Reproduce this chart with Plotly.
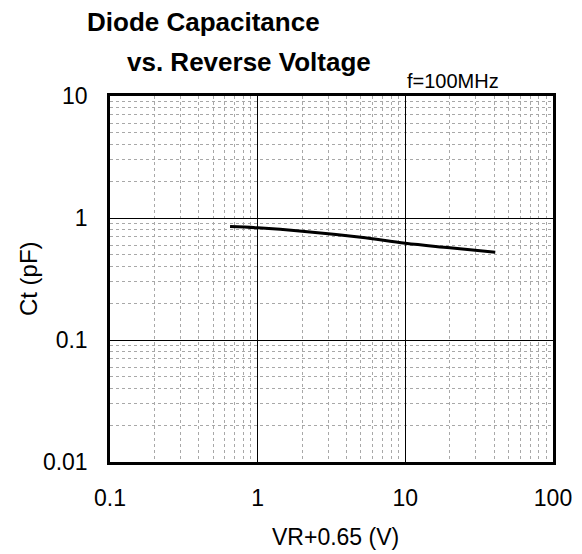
import plotly.graph_objects as go

vr_plus = [0.65, 1.0, 2.0, 5.0, 10.0, 20.0, 40.65]
ct_pf = [0.85, 0.83, 0.78, 0.695, 0.62, 0.57, 0.524]

x_ticks = [0.1, 1, 10, 100]
x_tick_labels = ["0.1", "1", "10", "100"]
y_ticks = [0.01, 0.1, 1, 10]
y_tick_labels = ["0.01", "0.1", "1", "10"]

FONT = "Liberation Sans, Arial, sans-serif"

fig = go.Figure()
fig.add_trace(go.Scatter(x=vr_plus, y=ct_pf, mode="lines",
                         line=dict(color="black", width=3, shape="spline"),
                         showlegend=False, hoverinfo="skip"))

axis_common = dict(
    type="log", showgrid=True, gridcolor="black", gridwidth=1,
    showline=True, linecolor="black", linewidth=2.5, mirror=True,
    ticks="", zeroline=False, automargin=False,
    tickfont=dict(family=FONT, size=23, color="black"),
    minor=dict(dtick="D1", showgrid=True, gridcolor="#a8a8a8", gridwidth=1, griddash="dot", ticks=""),
)

fig.update_xaxes(range=[-1, 2], tickvals=x_ticks, ticktext=x_tick_labels,
                 ticklabelstandoff=14, **axis_common)
fig.update_yaxes(range=[-2, 1], tickvals=y_ticks, ticktext=y_tick_labels,
                 ticklabelstandoff=15, **axis_common)

# axis titles
fig.add_annotation(text="VR+0.65 (V)", xref="paper", yref="paper",
                   x=0.51, y=-0.205, xanchor="center", yanchor="middle", showarrow=False,
                   font=dict(family=FONT, size=23, color="black"))
fig.add_annotation(text="Ct (pF)", xref="paper", yref="paper", textangle=-90,
                   x=-0.185, y=0.5, xanchor="center", yanchor="middle", showarrow=False,
                   font=dict(family=FONT, size=24, color="black"))

# chart title and condition
fig.add_annotation(text="<b>Diode Capacitance</b>", xref="paper", yref="paper",
                   x=-0.056, y=1.202, xanchor="left", yanchor="middle", showarrow=False,
                   font=dict(family=FONT, size=26, color="black"))
fig.add_annotation(text="<b>vs. Reverse Voltage</b>", xref="paper", yref="paper",
                   x=0.034, y=1.093, xanchor="left", yanchor="middle", showarrow=False,
                   font=dict(family=FONT, size=26, color="black"))
fig.add_annotation(text="f=100MHz", xref="paper", yref="paper",
                   x=0.775, y=1.006, xanchor="center", yanchor="bottom", showarrow=False,
                   font=dict(family=FONT, size=20, color="black"))

fig.update_layout(width=582, height=554, margin=dict(l=102, r=37, t=88, b=100),
                  plot_bgcolor="white", paper_bgcolor="white")

fig.write_html("out.html")
